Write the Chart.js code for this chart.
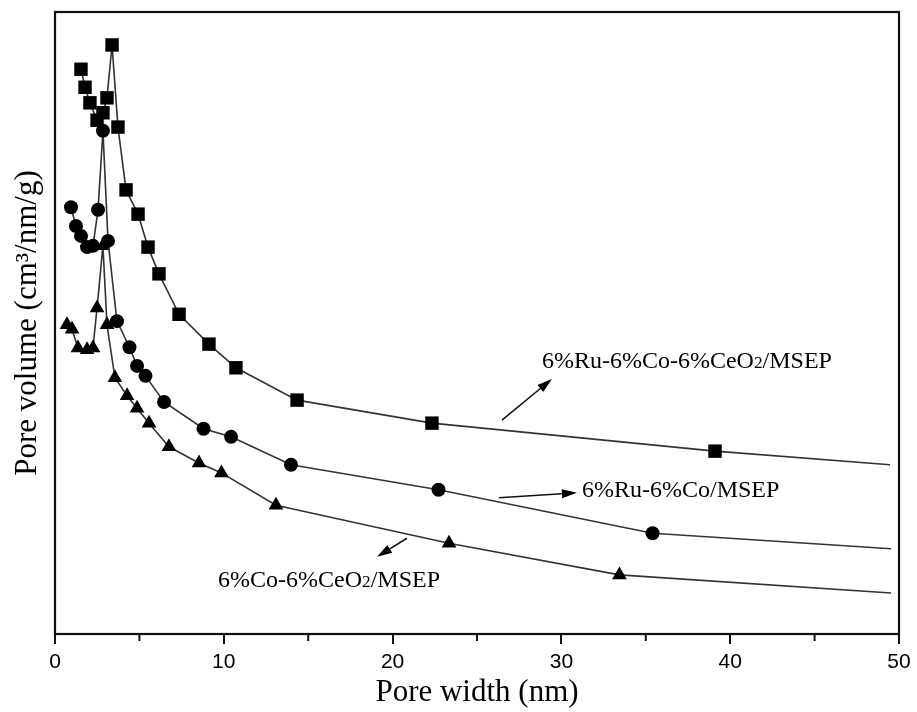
<!DOCTYPE html>
<html lang="en">
<head>
  <meta charset="UTF-8" />
  <title>Pore size distribution</title>
  <script src="https://cdn.jsdelivr.net/npm/chart.js"></script>
  <style>
    html, body { margin: 0; background: #fff; }
    #wrap { width: 917px; height: 712px; }
  </style>
</head>
<body>
<div id="wrap"><canvas id="poreChart" width="917" height="712"></canvas></div>
<script>
// pore width (nm) and pore volume (arbitrary, axis has no tick labels)
const xTicks = [0, 10, 20, 30, 40, 50];

const widthRuCoCe = [1.54, 1.78, 2.07, 2.49, 2.84, 3.08, 3.38, 3.73, 4.21, 4.92, 5.51, 6.16, 7.35, 9.12, 10.72, 14.34, 22.33, 39.10, 49.47];
const volRuCoCe   = [90.8, 87.9, 85.4, 82.6, 83.8, 86.2, 94.7, 81.5, 71.4, 67.5, 62.2, 57.9, 51.4, 46.6, 42.8, 37.6, 33.9, 29.4, 27.2];

const widthRuCo = [0.95, 1.24, 1.54, 1.90, 2.25, 2.55, 2.84, 3.14, 3.67, 4.41, 4.86, 5.36, 6.46, 8.80, 10.43, 13.98, 22.72, 35.40, 49.53];
const volRuCo   = [68.6, 65.6, 64.0, 62.2, 62.4, 68.2, 80.9, 63.2, 50.3, 46.1, 43.1, 41.5, 37.3, 33.0, 31.7, 27.2, 23.2, 16.2, 13.7];

const widthCoCe = [0.71, 1.01, 1.36, 1.90, 2.25, 2.49, 2.84, 3.08, 3.55, 4.27, 4.86, 5.57, 6.75, 8.53, 9.86, 13.09, 23.34, 33.44, 49.53];
const volCoCe   = [49.7, 49.0, 46.0, 45.7, 46.0, 52.4, 62.4, 49.7, 41.2, 38.3, 36.3, 33.9, 30.1, 27.5, 25.9, 20.7, 14.6, 9.5, 6.6];

// labels with arrows, in data coordinates
const notes = [
  { parts: [['6%Ru-6%Co-6%CeO', 1], ['2', 0.72], ['/MSEP', 1]], x: 28.85, y: 42.8,
    arrow: [26.48, 34.4, 29.44, 41.0] },
  { parts: [['6%Ru-6%Co/MSEP', 1]], x: 31.22, y: 22.0,
    arrow: [26.30, 21.9, 30.92, 22.7] },
  { parts: [['6%Co-6%CeO', 1], ['2', 0.72], ['/MSEP', 1]], x: 9.66, y: 7.56,
    arrow: [20.85, 15.4, 19.08, 12.4] }
];

const serif = '"Liberation Serif", "Times New Roman", serif';

function toPoints(xs, ys) {
  return xs.map((x, i) => ({ x: x, y: ys[i] }));
}

function makeSet(label, xs, ys, style, r) {
  return {
    label: label,
    data: toPoints(xs, ys),
    borderColor: '#333',
    borderWidth: 1.6,
    backgroundColor: '#000',
    pointBackgroundColor: '#000',
    pointBorderColor: '#000',
    pointBorderWidth: 0,
    pointStyle: style,
    pointRadius: ctx => ctx.dataIndex === xs.length - 1 ? 0 : r,
    tension: 0,
    fill: false
  };
}

const framePlugin = {
  id: 'frame',
  afterDraw(chart) {
    const { ctx, chartArea: a, scales } = chart;
    ctx.save();
    ctx.strokeStyle = '#111';
    ctx.lineWidth = 2.2;
    ctx.strokeRect(a.left, a.top, a.right - a.left, a.bottom - a.top);
    // minor ticks
    ctx.lineWidth = 2;
    for (let v = 5; v < 50; v += 10) {
      const px = scales.x.getPixelForValue(v);
      ctx.beginPath();
      ctx.moveTo(px, a.bottom);
      ctx.lineTo(px, a.bottom + 7);
      ctx.stroke();
    }
    ctx.restore();
  }
};

const notePlugin = {
  id: 'notes',
  afterDatasetsDraw(chart) {
    const { ctx, scales } = chart;
    const sx = scales.x, sy = scales.y;
    ctx.save();
    ctx.fillStyle = '#000';
    ctx.strokeStyle = '#111';
    ctx.textBaseline = 'alphabetic';
    notes.forEach(n => {
      let px = sx.getPixelForValue(n.x);
      const py = sy.getPixelForValue(n.y);
      n.parts.forEach(([t, k]) => {
        ctx.font = (24 * k).toFixed(1) + 'px ' + serif;
        ctx.fillText(t, px, py);
        px += ctx.measureText(t).width;
      });
      const [x0, y0, x1, y1] = n.arrow;
      const ax = sx.getPixelForValue(x0), ay = sy.getPixelForValue(y0);
      const bx = sx.getPixelForValue(x1), by = sy.getPixelForValue(y1);
      const ang = Math.atan2(by - ay, bx - ax);
      const hl = 15, hw = 4.5;
      ctx.lineWidth = 1.6;
      ctx.beginPath();
      ctx.moveTo(ax, ay);
      ctx.lineTo(bx - hl * Math.cos(ang), by - hl * Math.sin(ang));
      ctx.stroke();
      ctx.beginPath();
      ctx.moveTo(bx, by);
      ctx.lineTo(bx - hl * Math.cos(ang) + hw * Math.sin(ang), by - hl * Math.sin(ang) - hw * Math.cos(ang));
      ctx.lineTo(bx - hl * Math.cos(ang) - hw * Math.sin(ang), by - hl * Math.sin(ang) + hw * Math.cos(ang));
      ctx.closePath();
      ctx.fill();
    });
    ctx.restore();
  }
};

const chart = new Chart(document.getElementById('poreChart'), {
  type: 'line',
  data: {
    datasets: [
      makeSet('6%Ru-6%Co-6%CeO2/MSEP', widthRuCoCe, volRuCoCe, 'rect', 9.5),
      makeSet('6%Ru-6%Co/MSEP', widthRuCo, volRuCo, 'circle', 7),
      makeSet('6%Co-6%CeO2/MSEP', widthCoCe, volCoCe, 'triangle', 8.5)
    ]
  },
  options: {
    responsive: false,
    animation: false,
    layout: { padding: { top: 12, right: 18, left: 0, bottom: 0 } },
    plugins: { legend: { display: false }, tooltip: { enabled: false } },
    scales: {
      x: {
        type: 'linear',
        min: 0,
        max: 50,
        afterBuildTicks: s => { s.ticks = xTicks.map(v => ({ value: v })); },
        afterFit: s => { s.height = 78; },
        ticks: {
          color: '#000',
          padding: 6,
          font: { family: '"Liberation Sans", Arial, sans-serif', size: 21 },
          maxRotation: 0
        },
        grid: { drawOnChartArea: false, tickLength: 10, color: '#111', lineWidth: 2 },
        border: { display: false },
        title: {
          display: true,
          text: 'Pore width (nm)',
          color: '#000',
          font: { family: serif, size: 31 },
          padding: { top: 0, bottom: 1 }
        }
      },
      y: {
        min: 0,
        max: 100,
        afterFit: s => { s.width = 55; },
        ticks: { display: false },
        grid: { display: false },
        border: { display: false },
        title: {
          display: true,
          text: 'Pore volume (cm³/nm/g)',
          color: '#000',
          font: { family: serif, size: 31 },
          padding: { top: 9, bottom: 0 }
        }
      }
    }
  },
  plugins: [framePlugin, notePlugin]
});
</script>
</body>
</html>
